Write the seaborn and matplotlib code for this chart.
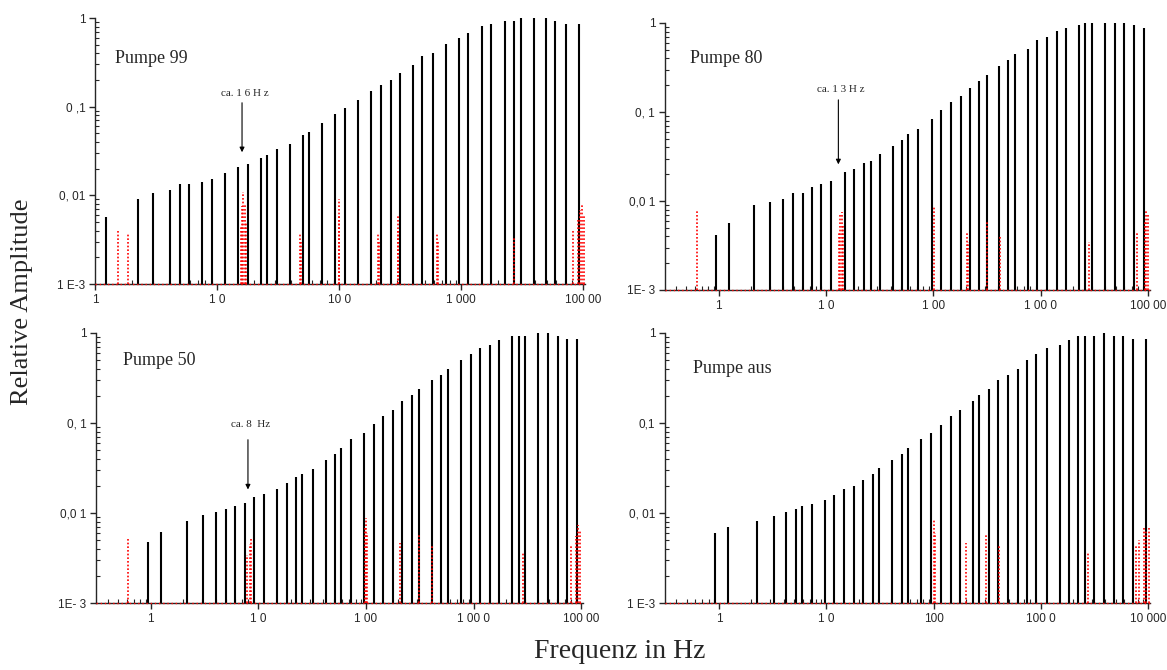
import numpy as np
import matplotlib
matplotlib.use("Agg")
import matplotlib.pyplot as plt
import matplotlib.ticker as mticker
import seaborn as sns

# panel 1: Pumpe 99
f99 = [1.22, 2.24, 3.0, 4.13, 4.96, 5.9, 7.55, 9.1, 11.7, 14.9, 17.8, 22.7, 25.8, 30.7, 39.3,
       50.3, 57, 72, 92.5, 112, 143, 182, 218, 265, 315, 404, 480, 582, 745, 953, 1143, 1480,
       1765, 2260, 2690, 3096, 3900, 4950, 5900, 7190, 9200]
a99 = [0.0057, 0.0090, 0.0106, 0.0114, 0.0133, 0.0133, 0.0142, 0.0154, 0.0179, 0.0209, 0.0226,
       0.0261, 0.0285, 0.033, 0.038, 0.048, 0.052, 0.065, 0.082, 0.096, 0.119, 0.151, 0.175,
       0.202, 0.238, 0.299, 0.377, 0.40, 0.505, 0.59, 0.68, 0.81, 0.86, 0.92, 0.93, 1.0, 1.0,
       1.0, 0.93, 0.86, 0.86]
r99_f = [1.55, 1.85, 15.6, 16.0, 16.4, 16.8, 17.2, 47.5, 48.5, 99, 100, 207, 211, 301, 305,
         630, 640, 2690, 8150, 9000, 9400, 9800, 10100]
r99_a = [0.0042, 0.0037, 0.0045, 0.0075, 0.0110, 0.0080, 0.0050, 0.0037, 0.0030, 0.0092, 0.0060,
         0.0037, 0.0030, 0.0058, 0.0040, 0.0037, 0.0030, 0.0033, 0.0040, 0.0055, 0.0068, 0.0080,
         0.0060]

# panel 2: Pumpe 80
f80 = [0.94, 1.24, 2.14, 3.02, 4.0, 4.88, 6.06, 7.4, 9.05, 11.2, 14.9, 18.2, 22.4, 26.1, 31.8,
       41.8, 51.4, 58.4, 72.5, 96, 117, 146, 179, 219, 268, 312, 406, 496, 573, 759, 927, 1150,
       1406, 1717, 2274, 2605, 3007, 3980, 4866, 5944, 7380, 9085]
a80 = [0.0042, 0.0057, 0.0091, 0.0098, 0.0106, 0.0123, 0.0123, 0.0144, 0.0155, 0.0166, 0.021,
       0.0226, 0.0264, 0.0283, 0.0333, 0.042, 0.048, 0.056, 0.065, 0.083, 0.104, 0.131, 0.151,
       0.188, 0.222, 0.259, 0.327, 0.38, 0.447, 0.513, 0.649, 0.70, 0.81, 0.88, 0.95, 1.0, 1.0,
       1.0, 1.0, 1.0, 0.95, 0.88]
r80_f = [0.63, 13.2, 13.6, 14.0, 14.4, 102, 206, 210, 314, 413, 2820, 7950, 9300, 9600, 9900]
r80_a = [0.0080, 0.0045, 0.0070, 0.0075, 0.0055, 0.0087, 0.0044, 0.0035, 0.0059, 0.0042, 0.0035,
         0.0044, 0.0060, 0.0080, 0.0070]

# panel 3: Pumpe 50
f50 = [0.94, 1.24, 2.16, 3.03, 4.0, 4.95, 6.09, 7.48, 9.19, 11.3, 14.8, 18.3, 22.5, 25.7, 31.9,
       42.1, 51.3, 58.7, 73.2, 95.8, 118, 145, 178, 218, 270, 312, 408, 501, 574, 757, 938, 1153,
       1427, 1740, 2295, 2626, 3028, 3997, 4876, 6039, 7413, 9180]
a50 = [0.0048, 0.0061, 0.0082, 0.0094, 0.0103, 0.0111, 0.0119, 0.0129, 0.0149, 0.0161, 0.0186,
       0.0215, 0.0251, 0.0271, 0.0311, 0.039, 0.0456, 0.0527, 0.066, 0.077, 0.097, 0.121, 0.141,
       0.174, 0.206, 0.239, 0.298, 0.344, 0.398, 0.506, 0.589, 0.681, 0.729, 0.843, 0.918, 0.918,
       0.918, 1.0, 1.0, 0.918, 0.857, 0.857]
r50_f = [0.62, 7.9, 8.3, 8.6, 98, 100, 102, 205, 312, 411, 2866, 8020, 9000, 9330, 9700]
r50_a = [0.0053, 0.0034, 0.0045, 0.0051, 0.0070, 0.0088, 0.0060, 0.0046, 0.0057, 0.0043, 0.0036,
         0.0043, 0.0055, 0.0074, 0.0065]

# panel 4: Pumpe aus
f00 = [0.92, 1.22, 2.28, 3.22, 4.23, 5.21, 5.97, 7.29, 9.64, 11.8, 14.6, 18.0, 22.0, 27.3, 31.3,
       41.1, 50.6, 57.5, 76.2, 94.6, 116, 144, 177, 232, 264, 327, 400, 489, 607, 747, 905, 1133,
       1499, 1833, 2240, 2585, 3160, 3918, 4786, 5850, 7256, 9610]
a00 = [0.006, 0.007, 0.0082, 0.0093, 0.0103, 0.0111, 0.0119, 0.0127, 0.0138, 0.016, 0.0186,
       0.0201, 0.0235, 0.0274, 0.0313, 0.039, 0.0456, 0.053, 0.066, 0.077, 0.096, 0.121, 0.141,
       0.175, 0.205, 0.239, 0.298, 0.344, 0.402, 0.506, 0.589, 0.676, 0.729, 0.843, 0.918, 0.918,
       0.918, 1.0, 0.918, 0.918, 0.857, 0.857]
r00_f = [101, 103, 202, 309, 406, 2775, 7740, 8300, 9100, 9600, 10200]
r00_a = [0.0084, 0.0060, 0.0046, 0.0057, 0.0044, 0.0036, 0.0043, 0.0050, 0.0071, 0.0065, 0.0070]

titles = ["Pumpe 99", "Pumpe 80", "Pumpe 50", "Pumpe aus"]
notes = ["ca. 1 6 H z", "ca. 1 3 H z", "ca. 8  Hz", None]
note_f = [16, 13, 8, None]
ylabels_all = [["1 E-3", "0, 01", "0 ,1", "1"], ["1E- 3", "0,0 1", "0, 1", "1"],
               ["1E- 3", "0,0 1", "0, 1", "1"], ["1 E-3", "0, 01", "0,1", "1"]]
xlabels_all = [["1", "1 0", "10 0", "1 000", "100 00"], ["1", "1 0", "1 00", "1 00 0", "100 00"],
               ["1", "1 0", "1 00", "1 00 0", "100 00"], ["1", "1 0", "100", "100 0", "10 000"]]

sns.set_style("ticks")
plt.rcParams['font.family'] = ['Liberation Sans', 'DejaVu Sans']

fig = plt.figure(figsize=(11.67, 6.70), dpi=100)
boxes = [[0.0814, 0.5761, 0.4199, 0.397], [0.5698, 0.5672, 0.4156, 0.3985],
         [0.0823, 0.100, 0.4173, 0.403], [0.5698, 0.100, 0.4156, 0.403]]
xlims = [(1, 10300), (0.315, 10400), (0.31, 10400), (0.313, 10400)]
black = [(f99, a99), (f80, a80), (f50, a50), (f00, a00)]
red = [(r99_f, r99_a), (r80_f, r80_a), (r50_f, r50_a), (r00_f, r00_a)]
title_pos = [(1.46, 0.35), (0.54, 0.40), (0.55, 0.50), (0.57, 0.40)]
arrows = [(0.119, 0.0285, 0.14), (0.147, 0.024, 0.18), (0.07, 0.017, 0.097), None]

for i in range(4):
    ax = fig.add_axes(boxes[i])
    ax.set_xscale("log")
    ax.set_yscale("log")
    ax.set_xlim(*xlims[i])
    ax.set_ylim(1e-3, 1)
    fb, ab = black[i]
    ax.vlines(fb, 1e-3, ab, color="black", lw=1.5, zorder=2)
    fr, ar = red[i]
    ax.vlines(fr, 1e-3, ar, color="red", lw=1.2, linestyles=(0, (1, 1.2)), zorder=3)
    ax.axhline(1e-3, color="red", lw=1.0, ls=(0, (1, 2)), zorder=4, clip_on=False)
    sns.despine(ax=ax)
    ax.spines["left"].set_linewidth(1.0)
    ax.spines["bottom"].set_linewidth(1.0)
    ax.set_yticks([1e-3, 1e-2, 1e-1, 1])
    ax.set_yticklabels(ylabels_all[i])
    ax.set_xticks([1, 10, 100, 1000, 10000])
    ax.set_xticklabels(xlabels_all[i])
    ax.xaxis.set_minor_locator(mticker.LogLocator(base=10, subs=np.arange(2, 10), numticks=20))
    ax.yaxis.set_minor_locator(mticker.LogLocator(base=10, subs=np.arange(2, 10), numticks=20))
    ax.xaxis.set_minor_formatter(mticker.NullFormatter())
    ax.yaxis.set_minor_formatter(mticker.NullFormatter())
    ax.tick_params(which="major", direction="out", length=4, width=1, labelsize=8.5, pad=3)
    ax.tick_params(which="minor", direction="in", length=3, width=0.8)
    tx, ty = title_pos[i]
    ax.text(tx, ty, titles[i], family="Liberation Serif", fontsize=13, va="center", ha="left")
    if arrows[i] is not None:
        y0, y1, yt = arrows[i]
        ax.annotate("", xy=(note_f[i], y1), xytext=(note_f[i], y0),
                    arrowprops=dict(arrowstyle="-|>", color="black", lw=0.8, mutation_scale=7))
        ax.text(note_f[i] * 1.05, yt, notes[i], family="Liberation Serif", fontsize=8,
                ha="center", va="center")

fig.text(0.019, 0.549, "Relative Amplitude", rotation=90, family="Liberation Serif",
         fontsize=19, ha="center", va="center")
fig.text(0.531, 0.027, "Frequenz in Hz", family="Liberation Serif", fontsize=20,
         ha="center", va="center")

fig.savefig("out.png", dpi=100)
